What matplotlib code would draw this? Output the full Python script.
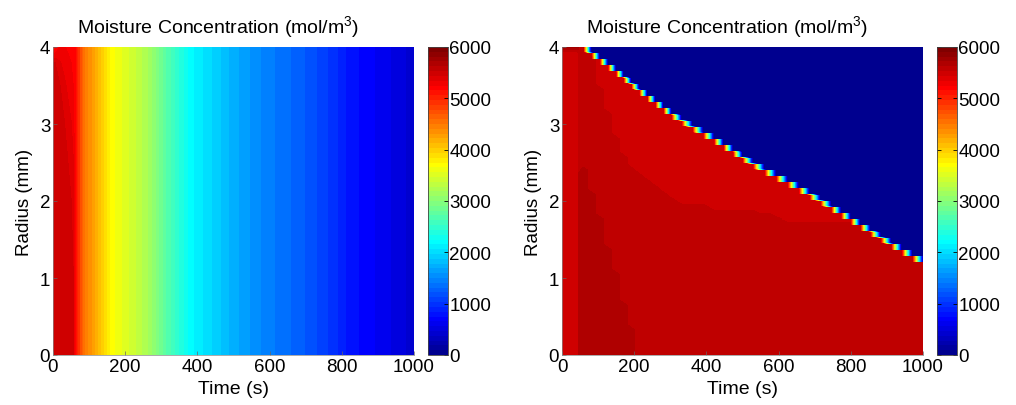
import numpy as np
import matplotlib
matplotlib.use('Agg')
import matplotlib.pyplot as plt
from matplotlib.colors import Normalize, ListedColormap
from matplotlib.cm import ScalarMappable

plt.rcParams['font.family'] = ['Liberation Sans', 'DejaVu Sans']
plt.rcParams['mathtext.fontset'] = 'custom'
plt.rcParams['mathtext.rm'] = 'Liberation Sans'
plt.rcParams['font.size'] = 13

# ---- left panel: moisture (mol/m3) ----
left_t_early = [0, 5, 20, 35, 50, 56]
left_r_early = [0, 1, 2, 3, 3.5, 3.8, 4.0]
left_c_early = [
    [5480, 5480, 5480, 5480, 5480, 5445],   # r = 0
    [5480, 5480, 5480, 5480, 5470, 5440],   # r = 1
    [5480, 5480, 5480, 5480, 5440, 5400],   # r = 2
    [5480, 5480, 5470, 5430, 5350, 5300],   # r = 3
    [5470, 5460, 5437, 5350, 5280, 5250],   # r = 3.5
    [5450, 5440, 5350, 5300, 5250, 5220],   # r = 3.8
    [4800, 5100, 5250, 5250, 5220, 5200],   # r = 4
]
# after ~60 s the profile is flat in radius
left_t_late = [62, 84, 130, 162, 222, 269, 315, 380, 453, 500, 592, 684, 777, 823, 915, 1000]
left_c_late = [5150, 4550, 4080, 3700, 3420, 3150, 2710, 2200, 1920, 1735, 1450, 1265, 985, 800, 610, 420]

# ---- right panel: drying front and wet zones ----
front_t = [58, 135, 199, 308, 420, 512, 640, 752, 842, 929, 984, 1000]
front_r = [4.0, 3.73, 3.49, 3.10, 2.80, 2.52, 2.20, 1.90, 1.63, 1.39, 1.24, 1.20]
split_t = [75, 124, 161, 193, 244, 308, 420, 600, 610, 800]
split_r = [3.95, 3.16, 2.64, 2.42, 2.21, 2.01, 1.90, 1.82, 1.75, 1.75]
core_t = [45, 55, 78, 124, 161, 212]
core_r = [2.38, 2.45, 2.20, 1.42, 0.86, 0.0]
level_outer = 5485
level_mid = 5580
level_core = 5670
level_cap = 5765
level_dry = 0
strip_end = 45
n_cells = 50


# matlab style jet(64)
def matlab_jet(n=64):
    m = int(np.ceil(n / 4))
    u = np.concatenate([np.arange(1, m + 1) / m, np.ones(m - 1), np.arange(m, 0, -1) / m])
    g = int(np.ceil(m / 2)) - (1 if n % 4 == 1 else 0) + np.arange(1, len(u) + 1)
    r = g + m
    b = g - m
    J = np.zeros((n, 3))
    for col, idx in ((0, r), (1, g), (2, b)):
        ok = idx <= n
        ok &= idx >= 1
        J[idx[ok] - 1, col] = u[ok]
    return ListedColormap(J)


cmap = matlab_jet(64)
norm = Normalize(0, 6000)
levels = np.linspace(0, 6000, 65)

# left grid
lt = np.array(left_t_early + left_t_late, dtype=float)
lr = np.array(left_r_early, dtype=float)
lz = np.hstack([np.array(left_c_early, dtype=float),
                np.tile(left_c_late, (len(lr), 1))])

# right grid: one time column each time the front leaves a cell
h = 4.0 / n_cells
edges = np.arange(n_cells + 1) * h
tau = np.interp(edges, front_r[::-1], front_t[::-1], left=np.inf)
cols = np.unique(np.concatenate([[0, 44, 46], tau[np.isfinite(tau) & (tau < 999)], [1000]]))
eps = 0.004
rn = []
rrow = []
for k in range(n_cells):
    rn += [k * h + eps, (k + 1) * h - eps]
    rrow += [k, k]
rn[0] = 0.0
rn[-1] = 4.0
rn = np.array(rn)

rz = np.zeros((len(rn), len(cols)))
for j, t in enumerate(cols):
    for i, r in enumerate(rn):
        k = rrow[i]
        if t >= tau[k] - 1e-6:
            v = level_dry
        elif t < strip_end:
            v = level_cap if r > 3.93 else level_outer
        elif r > np.interp(t, split_t, split_r, left=9, right=1.75):
            v = level_outer
        elif r < np.interp(t, core_t, core_r, left=-1, right=-1):
            v = level_core
        else:
            v = level_mid
        rz[i, j] = v

fig = plt.figure(figsize=(10.16, 4.06), dpi=100)
W, H = 1016.0, 406.0
panels = [
    (53, 414, 428, 448, lt, lr, lz),
    (562, 923, 937, 957, cols, rn, rz),
]
for x0, x1, c0, c1, tx, ry, z in panels:
    ax = fig.add_axes([x0 / W, 1 - 356 / H, (x1 - x0) / W, 308 / H])
    ax.contourf(tx, ry, z, levels=levels, cmap=cmap, norm=norm)
    ax.set_xlim(0, 1000)
    ax.set_ylim(0, 4)
    ax.set_xticks(range(0, 1001, 200))
    ax.set_yticks(range(0, 5))
    ax.tick_params(direction='in', length=3, pad=2, width=0.5, color='#666666',
                   labelsize=13.5)
    for s in ['top', 'right']:
        ax.spines[s].set_visible(False)
    for s in ['left', 'bottom']:
        ax.spines[s].set_linewidth(0.5)
        ax.spines[s].set_color('#888888')
    ax.set_xlabel('Time (s)', labelpad=4, fontsize=14)
    ax.set_ylabel('Radius (mm)', labelpad=5, fontsize=13.5)
    ax.set_title('Moisture Concentration (mol/m$^3$)', fontsize=14, pad=10, x=0.456)

    cax = fig.add_axes([c0 / W, 1 - 356 / H, (c1 - c0) / W, 308 / H])
    cb = fig.colorbar(ScalarMappable(norm=norm, cmap=cmap), cax=cax,
                      ticks=range(0, 6001, 1000))
    cb.outline.set_linewidth(0.6)
    cb.outline.set_edgecolor('#444444')
    cax.tick_params(direction='in', length=3, pad=1, width=0.6,
                    left=True, right=True, labelsize=13.5)

fig.savefig('out.png', dpi=100)
